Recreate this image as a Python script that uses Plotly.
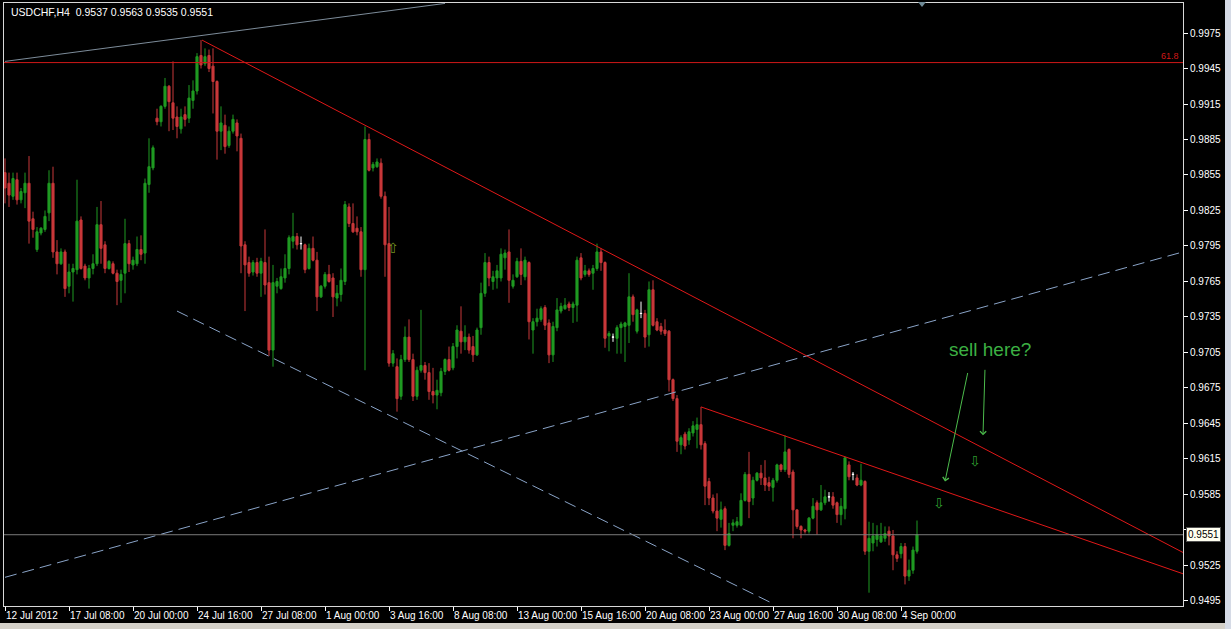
import numpy as np
import plotly.graph_objects as go

# USDCHF H4 candles (bar 0 = 12 Jul 2012 16:00)
OPEN = [
    0.9857, 0.9848, 0.9837, 0.9851, 0.9834, 0.9840, 0.9848, 0.9818, 0.9792, 0.9806,
    0.9809, 0.9823, 0.9848, 0.9790, 0.9780, 0.9790, 0.9761, 0.9773, 0.9775, 0.9817,
    0.9778, 0.9768, 0.9776, 0.9780, 0.9813, 0.9796, 0.9776, 0.9780, 0.9772, 0.9766,
    0.9772, 0.9797, 0.9779, 0.9780, 0.9792, 0.9789, 0.9847, 0.9861, 0.9903, 0.9900,
    0.9913, 0.9930, 0.9916, 0.9904, 0.9894, 0.9906, 0.9903, 0.9918, 0.9926, 0.9956,
    0.9949, 0.9956, 0.9947, 0.9934, 0.9892, 0.9897, 0.9880, 0.9892, 0.9899, 0.9886,
    0.9796, 0.9781, 0.9773, 0.9781, 0.9772, 0.9781, 0.9764, 0.9707, 0.9761, 0.9759,
    0.9768, 0.9776, 0.9799, 0.9803, 0.9797, 0.9796, 0.9776, 0.9793, 0.9783, 0.9752,
    0.9761, 0.9771, 0.9768, 0.9751, 0.9754, 0.9765, 0.9828, 0.9814, 0.9810, 0.9807,
    0.9775, 0.9885, 0.9861, 0.9862, 0.9865, 0.9837, 0.9797, 0.9696, 0.9693, 0.9668,
    0.9699, 0.9718, 0.9699, 0.9668, 0.9690, 0.9694, 0.9688, 0.9672, 0.9669, 0.9671,
    0.9689, 0.9699, 0.9692, 0.9710, 0.9723, 0.9714, 0.9718, 0.9710, 0.9703, 0.9726,
    0.9755, 0.9781, 0.9765, 0.9768, 0.9768, 0.9785, 0.9790, 0.9761, 0.9769, 0.9782,
    0.9769, 0.9781, 0.9724, 0.9731, 0.9733, 0.9743, 0.9730, 0.9703, 0.9726, 0.9740,
    0.9742, 0.9746, 0.9743, 0.9745, 0.9785, 0.9771, 0.9774, 0.9772, 0.9776, 0.9790,
    0.9781, 0.9719, 0.9718, 0.9717, 0.9726, 0.9727, 0.9728, 0.9752, 0.9723, 0.9738,
    0.9738, 0.9720, 0.9758, 0.9731, 0.9727, 0.9724, 0.9723, 0.9682, 0.9666, 0.9627,
    0.9636, 0.9631, 0.9637, 0.9640, 0.9644, 0.9628, 0.9596, 0.9582, 0.9571, 0.9564,
    0.9573, 0.9542, 0.9559, 0.9559, 0.9559, 0.9580, 0.9602, 0.9582, 0.9597, 0.9603,
    0.9599, 0.9595, 0.9591, 0.9597, 0.9610, 0.9606, 0.9623, 0.9604, 0.9572, 0.9558,
    0.9555, 0.9554, 0.9565, 0.9578, 0.9572, 0.9578, 0.9583, 0.9583, 0.9578, 0.9568,
    0.9573, 0.9610, 0.9602, 0.9599, 0.9593, 0.9596, 0.9537, 0.9544, 0.9547, 0.9545,
    0.9548, 0.9554, 0.9550, 0.9534, 0.9535, 0.9541, 0.9516, 0.9521, 0.9537,
]
HIGH = [
    0.9869, 0.9857, 0.9857, 0.9857, 0.9844, 0.9857, 0.9871, 0.9824, 0.9811, 0.9811,
    0.9825, 0.9859, 0.9862, 0.9800, 0.9793, 0.9792, 0.9780, 0.9780, 0.9851, 0.9820,
    0.9780, 0.9779, 0.9788, 0.9828, 0.9833, 0.9799, 0.9783, 0.9782, 0.9775, 0.9775,
    0.9818, 0.9800, 0.9786, 0.9803, 0.9804, 0.9852, 0.9886, 0.9880, 0.9911, 0.9914,
    0.9937, 0.9931, 0.9951, 0.9913, 0.9911, 0.9913, 0.9931, 0.9935, 0.9958, 0.9969,
    0.9962, 0.9961, 0.9962, 0.9935, 0.9913, 0.9906, 0.9896, 0.9906, 0.9902, 0.9890,
    0.9799, 0.9786, 0.9783, 0.9785, 0.9785, 0.9809, 0.9786, 0.9779, 0.9768, 0.9776,
    0.9788, 0.9804, 0.9823, 0.9806, 0.9803, 0.9797, 0.9797, 0.9803, 0.9790, 0.9762,
    0.9773, 0.9779, 0.9772, 0.9762, 0.9776, 0.9833, 0.9831, 0.9831, 0.9820, 0.9811,
    0.9896, 0.9890, 0.9866, 0.9869, 0.9869, 0.9841, 0.9828, 0.9707, 0.9700, 0.9703,
    0.9727, 0.9733, 0.9704, 0.9693, 0.9741, 0.9697, 0.9696, 0.9692, 0.9682, 0.9692,
    0.9700, 0.9710, 0.9713, 0.9728, 0.9744, 0.9728, 0.9721, 0.9719, 0.9726, 0.9764,
    0.9789, 0.9786, 0.9774, 0.9779, 0.9793, 0.9792, 0.9809, 0.9771, 0.9785, 0.9793,
    0.9786, 0.9782, 0.9734, 0.9742, 0.9744, 0.9745, 0.9733, 0.9731, 0.9751, 0.9747,
    0.9751, 0.9748, 0.9748, 0.9786, 0.9789, 0.9779, 0.9776, 0.9779, 0.9797, 0.9793,
    0.9782, 0.9723, 0.9721, 0.9728, 0.9731, 0.9731, 0.9772, 0.9754, 0.9742, 0.9748,
    0.9741, 0.9765, 0.9766, 0.9734, 0.9730, 0.9733, 0.9724, 0.9683, 0.9669, 0.9635,
    0.9638, 0.9641, 0.9647, 0.9650, 0.9659, 0.9630, 0.9599, 0.9585, 0.9586, 0.9579,
    0.9575, 0.9561, 0.9564, 0.9566, 0.9586, 0.9604, 0.9621, 0.9600, 0.9604, 0.9610,
    0.9614, 0.9600, 0.9599, 0.9611, 0.9611, 0.9635, 0.9624, 0.9606, 0.9572, 0.9559,
    0.9556, 0.9566, 0.9582, 0.9580, 0.9593, 0.9589, 0.9587, 0.9587, 0.9579, 0.9582,
    0.9617, 0.9613, 0.9604, 0.9602, 0.9611, 0.9597, 0.9562, 0.9561, 0.9559, 0.9561,
    0.9558, 0.9558, 0.9555, 0.9537, 0.9544, 0.9544, 0.9530, 0.9541, 0.9563,
]
LOW = [
    0.9831, 0.9828, 0.9834, 0.9830, 0.9831, 0.9827, 0.9797, 0.9802, 0.9790, 0.9804,
    0.9807, 0.9816, 0.9785, 0.9771, 0.9779, 0.9752, 0.9755, 0.9748, 0.9771, 0.9775,
    0.9766, 0.9759, 0.9771, 0.9778, 0.9780, 0.9772, 0.9775, 0.9771, 0.9745, 0.9747,
    0.9755, 0.9773, 0.9775, 0.9778, 0.9783, 0.9780, 0.9840, 0.9859, 0.9897, 0.9896,
    0.9911, 0.9892, 0.9893, 0.9886, 0.9890, 0.9896, 0.9899, 0.9911, 0.9923, 0.9945,
    0.9947, 0.9942, 0.9907, 0.9868, 0.9876, 0.9873, 0.9878, 0.9890, 0.9875, 0.9772,
    0.9740, 0.9769, 0.9770, 0.9769, 0.9752, 0.9754, 0.9702, 0.9693, 0.9755, 0.9758,
    0.9764, 0.9771, 0.9793, 0.9792, 0.9792, 0.9772, 0.9775, 0.9782, 0.9740, 0.9751,
    0.9759, 0.9764, 0.9735, 0.9744, 0.9748, 0.9762, 0.9811, 0.9806, 0.9804, 0.9769,
    0.9690, 0.9858, 0.9858, 0.9861, 0.9835, 0.9769, 0.9693, 0.9693, 0.9655, 0.9665,
    0.9697, 0.9697, 0.9664, 0.9665, 0.9688, 0.9682, 0.9665, 0.9662, 0.9657, 0.9668,
    0.9686, 0.9689, 0.9690, 0.9700, 0.9704, 0.9707, 0.9704, 0.9697, 0.9702, 0.9720,
    0.9752, 0.9761, 0.9758, 0.9759, 0.9765, 0.9775, 0.9747, 0.9759, 0.9768, 0.9762,
    0.9766, 0.9716, 0.9704, 0.9727, 0.9731, 0.9724, 0.9696, 0.9697, 0.9723, 0.9738,
    0.9741, 0.9740, 0.9730, 0.9731, 0.9766, 0.9769, 0.9769, 0.9758, 0.9774, 0.9774,
    0.9709, 0.9706, 0.9714, 0.9704, 0.9704, 0.9697, 0.9713, 0.9731, 0.9721, 0.9734,
    0.9709, 0.9710, 0.9727, 0.9723, 0.9720, 0.9719, 0.9672, 0.9664, 0.9621, 0.9619,
    0.9623, 0.9627, 0.9634, 0.9624, 0.9623, 0.9576, 0.9576, 0.9569, 0.9554, 0.9557,
    0.9538, 0.9541, 0.9554, 0.9557, 0.9558, 0.9579, 0.9565, 0.9576, 0.9596, 0.9593,
    0.9588, 0.9588, 0.9579, 0.9595, 0.9604, 0.9604, 0.9599, 0.9548, 0.9556, 0.9548,
    0.9552, 0.9552, 0.9564, 0.9551, 0.9571, 0.9576, 0.9579, 0.9573, 0.9561, 0.9559,
    0.9564, 0.9597, 0.9597, 0.9592, 0.9592, 0.9534, 0.9502, 0.9537, 0.9541, 0.9544,
    0.9545, 0.9542, 0.9521, 0.9528, 0.9531, 0.9509, 0.9512, 0.9518, 0.9535,
]
CLOSE = [
    0.9844, 0.9838, 0.9852, 0.9834, 0.9841, 0.9848, 0.9816, 0.9809, 0.9807, 0.9810,
    0.9820, 0.9848, 0.9790, 0.9780, 0.9790, 0.9759, 0.9773, 0.9776, 0.9816, 0.9776,
    0.9768, 0.9776, 0.9780, 0.9813, 0.9793, 0.9776, 0.9782, 0.9772, 0.9765, 0.9771,
    0.9797, 0.9780, 0.9783, 0.9792, 0.9788, 0.9848, 0.9862, 0.9878, 0.9900, 0.9913,
    0.9930, 0.9917, 0.9903, 0.9896, 0.9904, 0.9902, 0.9920, 0.9926, 0.9955, 0.9948,
    0.9955, 0.9945, 0.9934, 0.9892, 0.9899, 0.9879, 0.9892, 0.9902, 0.9888, 0.9795,
    0.9779, 0.9772, 0.9781, 0.9772, 0.9782, 0.9762, 0.9707, 0.9764, 0.9765, 0.9769,
    0.9776, 0.9802, 0.9803, 0.9796, 0.9797, 0.9775, 0.9793, 0.9783, 0.9752, 0.9761,
    0.9771, 0.9765, 0.9752, 0.9755, 0.9766, 0.9830, 0.9814, 0.9807, 0.9807, 0.9775,
    0.9885, 0.9859, 0.9864, 0.9866, 0.9837, 0.9796, 0.9696, 0.9704, 0.9666, 0.9699,
    0.9718, 0.9699, 0.9668, 0.9690, 0.9694, 0.9688, 0.9672, 0.9669, 0.9673, 0.9689,
    0.9699, 0.9690, 0.9710, 0.9724, 0.9714, 0.9718, 0.9707, 0.9703, 0.9724, 0.9755,
    0.9781, 0.9768, 0.9769, 0.9774, 0.9788, 0.9789, 0.9766, 0.9766, 0.9782, 0.9771,
    0.9783, 0.9731, 0.9731, 0.9734, 0.9742, 0.9728, 0.9703, 0.9727, 0.9741, 0.9744,
    0.9745, 0.9743, 0.9746, 0.9783, 0.9768, 0.9774, 0.9771, 0.9776, 0.9790, 0.9781,
    0.9717, 0.9721, 0.9718, 0.9726, 0.9729, 0.9730, 0.9752, 0.9737, 0.9741, 0.9738,
    0.9718, 0.9758, 0.9728, 0.9724, 0.9723, 0.9721, 0.9682, 0.9666, 0.9630, 0.9633,
    0.9626, 0.9638, 0.9643, 0.9644, 0.9627, 0.9592, 0.9582, 0.9571, 0.9565, 0.9572,
    0.9542, 0.9552, 0.9561, 0.9562, 0.9580, 0.9602, 0.9579, 0.9597, 0.9603, 0.9599,
    0.9593, 0.9592, 0.9597, 0.9610, 0.9606, 0.9621, 0.9602, 0.9572, 0.9558, 0.9555,
    0.9554, 0.9565, 0.9575, 0.9572, 0.9578, 0.9583, 0.9583, 0.9576, 0.9568, 0.9575,
    0.9616, 0.9600, 0.9602, 0.9593, 0.9597, 0.9537, 0.9548, 0.9550, 0.9551, 0.9550,
    0.9552, 0.9550, 0.9534, 0.9531, 0.9541, 0.9516, 0.9521, 0.9538, 0.9551,
]

SYMBOL = "USDCHF,H4"
TIME_LABELS = ["12 Jul 2012", "17 Jul 08:00", "20 Jul 00:00", "24 Jul 16:00",
               "27 Jul 08:00", "1 Aug 00:00", "3 Aug 16:00", "8 Aug 08:00",
               "13 Aug 00:00", "15 Aug 16:00", "20 Aug 08:00", "23 Aug 00:00",
               "27 Aug 16:00", "30 Aug 08:00", "4 Sep 00:00"]
BARS_PER_LABEL = 16
PRICE_TICKS = [0.9495, 0.9525, 0.9555, 0.9585, 0.9615, 0.9645, 0.9675, 0.9705,
               0.9735, 0.9765, 0.9795, 0.9825, 0.9855, 0.9885, 0.9915, 0.9945, 0.9975]

FIB_618 = 0.9950
BID = 0.9551

# drawn objects: (bar, price) anchor pairs
UPPER_TREND = [(49.25, 0.9969), (294.5, 0.9536)]
LOWER_TREND = [(174, 0.9659), (294.5, 0.9518)]
CHANNEL_UP = [(0, 0.9515), (294.5, 0.9790)]
CHANNEL_DOWN = [(43, 0.9740), (191.25, 0.9494)]
GREY_LINE = [(0, 0.9951), (110, 1.0000)]
SELL_ARROWS = [(233.5, 0.9578), (242.5, 0.9613)]
BUY_ARROWS = [(97, 0.9793)]

W, H = 1231, 629
L_PX, R_PX, T_PX, B_PX = 4, 1183, 3, 606
GREEN = "#1f9a22"
RED = "#c8383a"
FONT = "Liberation Sans"


def px(x):
    return (x - L_PX) / (R_PX - L_PX)


def py(y):
    return (B_PX - y) / (B_PX - T_PX)


o, h, l, c = (np.array(a) for a in (OPEN, HIGH, LOW, CLOSE))
bars = np.arange(len(o))
doji = o == c

fig = go.Figure()
fig.add_trace(go.Candlestick(
    x=bars[~doji], open=o[~doji], high=h[~doji], low=l[~doji], close=c[~doji],
    increasing=dict(line=dict(color=GREEN, width=1), fillcolor=GREEN),
    decreasing=dict(line=dict(color=RED, width=1), fillcolor=RED),
    whiskerwidth=0, showlegend=False, hoverinfo="skip",
))
fig.add_trace(go.Candlestick(
    x=bars[doji], open=o[doji], high=h[doji], low=l[doji], close=c[doji],
    increasing=dict(line=dict(color="white", width=1), fillcolor="white"),
    decreasing=dict(line=dict(color="white", width=1), fillcolor="white"),
    whiskerwidth=0, showlegend=False, hoverinfo="skip",
))


def seg(pts, color, width=1, dash=None):
    fig.add_trace(go.Scatter(
        x=[p[0] for p in pts], y=[p[1] for p in pts], mode="lines",
        line=dict(color=color, width=width, dash=dash),
        showlegend=False, hoverinfo="skip",
    ))


seg(GREY_LINE, "#7d8c9a")
seg(CHANNEL_UP, "#8aa4c8", dash="12px,6px")
seg(CHANNEL_DOWN, "#8aa4c8", dash="12px,6px")
seg(UPPER_TREND, "#e01818")
seg(LOWER_TREND, "#e01818")

fig.add_hline(y=FIB_618, line=dict(color="#d01818", width=1))
fig.add_hline(y=BID, line=dict(color="#7a7a7a", width=1))

header = f"{SYMBOL}&nbsp;&nbsp;{OPEN[-1]:.4f} {HIGH[-1]:.4f} {LOW[-1]:.4f} {CLOSE[-1]:.4f}"
ann = [
    dict(x=px(9), y=py(12), xref="paper", yref="paper", xanchor="left",
         yanchor="middle", showarrow=False, text=header,
         font=dict(family=FONT, size=10.5, color="white")),
    dict(x=px(1181), y=FIB_618, xref="paper", yref="y", xanchor="right",
         yanchor="bottom", showarrow=False, text="61.8",
         font=dict(family=FONT, size=9, color="#d01818")),
    dict(x=px(1186), y=BID, xref="paper", yref="y", xanchor="left",
         yanchor="middle", showarrow=False, text=f"{BID:.4f}",
         bgcolor="#fffff0", bordercolor="#505050", borderwidth=1, borderpad=1,
         font=dict(family=FONT, size=10, color="black")),
    dict(x=px(990), y=py(350), xref="paper", yref="paper", xanchor="center",
         yanchor="middle", showarrow=False,
         text="sell here?", font=dict(family=FONT, size=19, color="#3cb043")),
    dict(x=235, y=0.9596, ax=23, ay=-110, showarrow=True, arrowhead=4,
         arrowsize=1.2, arrowwidth=1, arrowcolor="#4cbc4c", text=""),
    dict(x=244.5, y=0.9635, ax=2, ay=-67, showarrow=True, arrowhead=4,
         arrowsize=1.2, arrowwidth=1, arrowcolor="#4cbc4c", text=""),
]
for bx, bp in SELL_ARROWS:
    ann.append(dict(x=bx, y=bp, showarrow=False, text="⇩", xanchor="center",
                    font=dict(family="DejaVu Sans", size=14, color="#2e9a2e")))
for bx, bp in BUY_ARROWS:
    ann.append(dict(x=bx, y=bp, showarrow=False, text="⇧", xanchor="center",
                    font=dict(family="DejaVu Sans", size=14, color="#6f8f20")))

shapes = [
    # window chrome around the chart
    dict(type="rect", xref="paper", yref="paper", x0=px(-5), x1=px(3), y0=py(H + 5), y1=py(-5),
         fillcolor="#b8b8b8", line_width=0, layer="above"),
    dict(type="rect", xref="paper", yref="paper", x0=px(-5), x1=px(W + 5), y0=py(2), y1=py(-5),
         fillcolor="#e8e8e8", line_width=0, layer="above"),
    dict(type="rect", xref="paper", yref="paper", x0=px(1225), x1=px(W + 5), y0=py(H + 5), y1=py(-5),
         fillcolor="#d6dbe6", line_width=0, layer="above"),
    dict(type="rect", xref="paper", yref="paper", x0=px(-5), x1=px(1225), y0=py(H + 5), y1=py(623),
         fillcolor="#d4d0c8", line_width=0, layer="above"),
    dict(type="path", xref="paper", yref="paper",
         path=f"M {px(918)} {py(2)} L {px(926)} {py(2)} L {px(922)} {py(7)} Z",
         fillcolor="#6f8a96", line_width=0),
]

# the bid box covers the 0.9555 label, as in the terminal
tick_text = ["" if abs(v - 0.9555) < 1e-9 else f"{v:.4f}" for v in PRICE_TICKS]

fig.update_layout(
    width=W, height=H,
    margin=dict(l=L_PX, r=W - R_PX, t=T_PX, b=H - B_PX, pad=0),
    paper_bgcolor="black", plot_bgcolor="black",
    showlegend=False,
    annotations=ann, shapes=shapes,
    xaxis=dict(
        range=[-0.25, 294.5], rangeslider=dict(visible=False),
        tickvals=[k * BARS_PER_LABEL for k in range(len(TIME_LABELS))],
        ticktext=TIME_LABELS, ticks="outside", ticklen=4, tickcolor="white",
        tickangle=0, automargin=False,
        ticklabelposition="outside right",
        tickfont=dict(family=FONT, size=10, color="white"),
        showgrid=False, zeroline=False, showline=True, mirror=True,
        linecolor="#d8d8d8", linewidth=1,
    ),
    yaxis=dict(
        side="right", range=[0.949076, 1.000035], automargin=False,
        tickvals=PRICE_TICKS, ticktext=tick_text,
        ticks="outside", ticklen=4, tickcolor="white",
        tickfont=dict(family=FONT, size=10, color="white"),
        showgrid=False, zeroline=False, showline=True, mirror=True,
        linecolor="#d8d8d8", linewidth=1,
    ),
    boxgap=0.25,
)

fig.write_html("out.html", config=dict(displayModeBar=False),
               post_script="document.body.style.margin='0';document.body.style.overflow='hidden';")
